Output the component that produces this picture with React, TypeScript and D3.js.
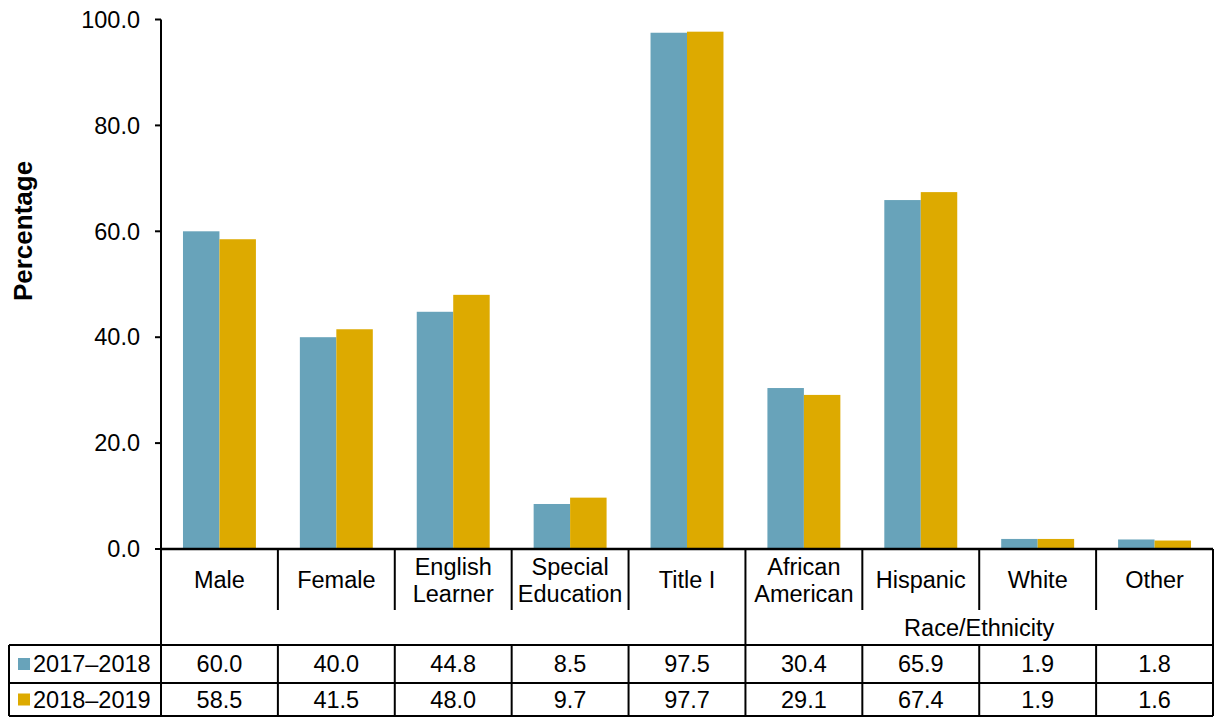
import React from "react";
import * as d3 from "d3";

const categories: string[][] = [
  ["Male"],
  ["Female"],
  ["English", "Learner"],
  ["Special", "Education"],
  ["Title I"],
  ["African", "American"],
  ["Hispanic"],
  ["White"],
  ["Other"],
];
const seriesNames = ["2017–2018", "2018–2019"];
const values2017 = [60.0, 40.0, 44.8, 8.5, 97.5, 30.4, 65.9, 1.9, 1.8];
const values2018 = [58.5, 41.5, 48.0, 9.7, 97.7, 29.1, 67.4, 1.9, 1.6];
const yTicks = [0, 20, 40, 60, 80, 100];
const groupLabel = "Race/Ethnicity";
const groupStart = 5;
const colors = ["#68A3BA", "#DDAA00"];

const W = 1214;
const H = 717;
const left = 161;
const right = 1213;
const top = 19.5;
const axisY = 549;
const labelRowBottom = 610;
const groupRowBottom = 645;
const row1Bottom = 683;
const row2Bottom = 716;
const tableLeft = 9;
const font = "'Liberation Sans', Arial, sans-serif";
const fs = 23.5;

export default function App() {
  const idx = categories.map((_, i) => String(i));
  const x = d3.scaleBand<string>().domain(idx).range([left, right]).paddingInner(0).paddingOuter(0);
  const bw = x.bandwidth();
  const inner = d3.scaleBand<string>().domain(["0", "1"]).range([bw * 0.188, bw * 0.812]);
  const y = d3.scaleLinear().domain([0, 100]).range([axisY, top]);
  const series = [values2017, values2018];
  const boundaries = idx.map((i) => x(i)!).concat([right]);

  return (
    <svg width={W} height={H} style={{ position: "absolute", left: 0, top: 0, background: "#fff" }} fontFamily={font}>
      {/* bars */}
      {series.map((vals, s) =>
        vals.map((v, i) => (
          <rect
            key={`${s}-${i}`}
            x={x(String(i))! + inner(String(s))!}
            y={y(v)}
            width={inner.bandwidth()}
            height={axisY - y(v)}
            fill={colors[s]}
          />
        ))
      )}
      {/* y axis */}
      <line x1={left} x2={left} y1={top} y2={row2Bottom} stroke="#000" strokeWidth={2} />
      {yTicks.map((t) => (
        <g key={t}>
          <line x1={left - 6} x2={left} y1={y(t)} y2={y(t)} stroke="#000" strokeWidth={2} />
          <text x={140} y={y(t)} dy="0.35em" textAnchor="end" fontSize={fs} fill="#000">
            {t.toFixed(1)}
          </text>
        </g>
      ))}
      <text
        transform={`translate(32,231) rotate(-90)`}
        textAnchor="middle"
        fontSize={26}
        fontWeight="bold"
        fill="#000"
      >
        Percentage
      </text>
      {/* x axis line */}
      <line x1={left} x2={right} y1={axisY} y2={axisY} stroke="#000" strokeWidth={2.5} />
      {/* category label verticals */}
      {boundaries.map((b, i) => (
        <line key={`cv${i}`} x1={b} x2={b} y1={axisY} y2={labelRowBottom} stroke="#000" strokeWidth={2} />
      ))}
      {/* category labels */}
      {categories.map((lines, i) => {
        const cx = x(String(i))! + bw / 2;
        const cy = 580;
        return (
          <text key={`cl${i}`} x={cx} textAnchor="middle" fontSize={fs} fill="#000">
            {lines.map((l, j) => (
              <tspan key={j} x={cx} y={cy + (j - (lines.length - 1) / 2) * 27} dy="0.35em">
                {l}
              </tspan>
            ))}
          </text>
        );
      })}
      {/* group row */}
      <line x1={x(String(groupStart))!} x2={x(String(groupStart))!} y1={labelRowBottom} y2={groupRowBottom} stroke="#000" strokeWidth={2} />
      <line x1={right} x2={right} y1={labelRowBottom} y2={row2Bottom} stroke="#000" strokeWidth={2} />
      <text
        x={(x(String(groupStart))! + right) / 2}
        y={628}
        dy="0.35em"
        textAnchor="middle"
        fontSize={fs}
        fill="#000"
      >
        {groupLabel}
      </text>
      {/* data table */}
      {[groupRowBottom, row1Bottom, row2Bottom].map((yy, i) => (
        <line key={`h${i}`} x1={tableLeft} x2={right} y1={yy} y2={yy} stroke="#000" strokeWidth={2} />
      ))}
      <line x1={tableLeft} x2={tableLeft} y1={groupRowBottom} y2={row2Bottom} stroke="#000" strokeWidth={2} />
      {boundaries.map((b, i) => (
        <line key={`tv${i}`} x1={b} x2={b} y1={groupRowBottom} y2={row2Bottom} stroke="#000" strokeWidth={2} />
      ))}
      {series.map((vals, s) => {
        const rowTop = s === 0 ? groupRowBottom : row1Bottom;
        const rowBot = s === 0 ? row1Bottom : row2Bottom;
        const cy = (rowTop + rowBot) / 2;
        return (
          <g key={`row${s}`}>
            <rect x={18} y={cy - 6} width={12} height={12} fill={colors[s]} />
            <text x={33} y={cy} dy="0.35em" fontSize={fs} fill="#000">
              {seriesNames[s]}
            </text>
            {vals.map((v, i) => (
              <text
                key={i}
                x={x(String(i))! + bw / 2}
                y={cy}
                dy="0.35em"
                textAnchor="middle"
                fontSize={fs}
                fill="#000"
              >
                {v.toFixed(1)}
              </text>
            ))}
          </g>
        );
      })}
    </svg>
  );
}
